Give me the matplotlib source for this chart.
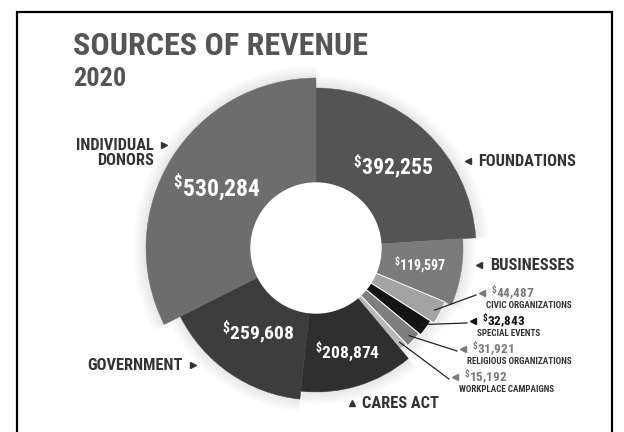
import numpy as np
import matplotlib
matplotlib.use("Agg")
import matplotlib.pyplot as plt
from matplotlib.patches import Wedge, Circle
from matplotlib import font_manager

# data
names = ["FOUNDATIONS", "BUSINESSES", "CIVIC ORGANIZATIONS", "SPECIAL EVENTS",
         "RELIGIOUS ORGANIZATIONS", "WORKPLACE CAMPAIGNS", "CARES ACT",
         "GOVERNMENT", "INDIVIDUAL\nDONORS"]
values = [392255, 119597, 44487, 32843, 31921, 15192, 208874, 259608, 530284]

# style per slice
radii = [160, 147, 140, 136, 134, 132, 144, 152, 170]
colors = ["#545454", "#7b7b7b", "#a3a3a3", "#141414", "#7e7e7e",
          "#b8b8b8", "#2f2f2f", "#3d3d3d", "#6d6d6d"]

avail = {f.name for f in font_manager.fontManager.ttflist}
fam = next((f for f in ["Liberation Sans Narrow", "Roboto Condensed", "DejaVu Sans"]
            if f in avail), "DejaVu Sans")
plt.rcParams['font.family'] = [fam, 'DejaVu Sans']
plt.rcParams['font.weight'] = 'bold'
plt.rcParams['mathtext.fontset'] = 'custom'
plt.rcParams['mathtext.rm'] = fam + ':bold'
plt.rcParams['mathtext.default'] = 'rm'

W, H = 624, 432


def Y(y):
    return H - y


fig = plt.figure(figsize=(6.24, 4.32), dpi=100)
ax = fig.add_axes([0, 0, 1, 1])
ax.set_xlim(0, W)
ax.set_ylim(0, H)
ax.axis('off')

# frame
ax.plot([17, 17, 612, 612], [0, Y(12), Y(12), 0], color="black", lw=1.6,
        solid_joinstyle='miter')

ax.text(73, Y(55), "SOURCES OF REVENUE", fontsize=23, color="#555555", va="baseline")
ax.text(73, Y(86), "2020", fontsize=19, color="#555555", va="baseline")

cx, cy = 316, Y(248)
vals = np.array(values, dtype=float)
span = vals / vals.sum() * 360
ends = 90 - np.cumsum(span)
starts = ends + span
mids = (starts + ends) / 2

# soft shadow
for k in range(1, 9):
    for r, a1, a2 in zip(radii, ends, starts):
        ax.add_patch(Wedge((cx, cy), r + k * 1.6, a1, a2, color="black",
                           alpha=0.012, lw=0))

for i, (r, a1, a2, c) in enumerate(zip(radii, ends, starts, colors)):
    small = 2 <= i <= 5
    ax.add_patch(Wedge((cx, cy), r, a1, a2, facecolor=c,
                       edgecolor="white" if small else c,
                       lw=0.7 if small else 0.3))

ax.add_patch(Circle((cx, cy), 65, color="white", zorder=3))

# values inside slices
inner = {0: (15.5, 112), 1: (10, 106), 6: (12.5, 108), 7: (14, 102), 8: (17, 116)}
for i, (fs, rl) in inner.items():
    a = np.radians(mids[i])
    ax.text(cx + rl * np.cos(a), cy + rl * np.sin(a),
            r"$^{\$}$" + f"{values[i]:,}", fontsize=fs, color="white",
            ha="center", va="center")

lab_col = "#333333"
tri = dict(ls="none", color=lab_col, markersize=4.5)

# big labels
ax.plot(468, Y(161), marker="<", **tri)
ax.text(478, Y(161), names[0], fontsize=11.8, color=lab_col, va="center")
ax.plot(479, Y(265), marker="<", **tri)
ax.text(490, Y(265), names[1], fontsize=11.8, color=lab_col, va="center")
ax.plot(164, Y(145), marker=">", **tri)
ax.text(154, Y(153), names[8], fontsize=11.8, color=lab_col, va="center",
        ha="right", multialignment="right", linespacing=1.0)
ax.plot(193, Y(365), marker=">", **tri)
ax.text(183, Y(365), names[7], fontsize=11.8, color=lab_col, va="center", ha="right")
ax.plot(352, Y(403), marker="^", **tri)
ax.text(362, Y(403), names[6], fontsize=11.8, color=lab_col, va="center")

# small slices with leader lines
small_pos = {2: (482, 293), 3: (473, 321), 4: (463, 349), 5: (455, 377)}
val_cols = {2: "#7a7a7a", 3: "#111111", 4: "#7a7a7a", 5: "#7a7a7a"}
for i, (tx, ty) in small_pos.items():
    a = np.radians(mids[i])
    r0 = radii[i] - 6
    ax.plot([cx + r0 * np.cos(a), tx - 6], [cy + r0 * np.sin(a), Y(ty + 2)],
            color="#222222", lw=0.9, zorder=4)
    ax.plot(tx, Y(ty), marker="<", ls="none", color=val_cols[i], markersize=3.8)
    ax.text(tx + 9, Y(ty), r"$^{\$}$" + f"{values[i]:,}", fontsize=9.5,
            color=val_cols[i], va="center")
    ax.text(tx + 4, Y(ty + 13), names[i], fontsize=6.6, color=lab_col, va="center")

fig.savefig("out.png", dpi=100)
